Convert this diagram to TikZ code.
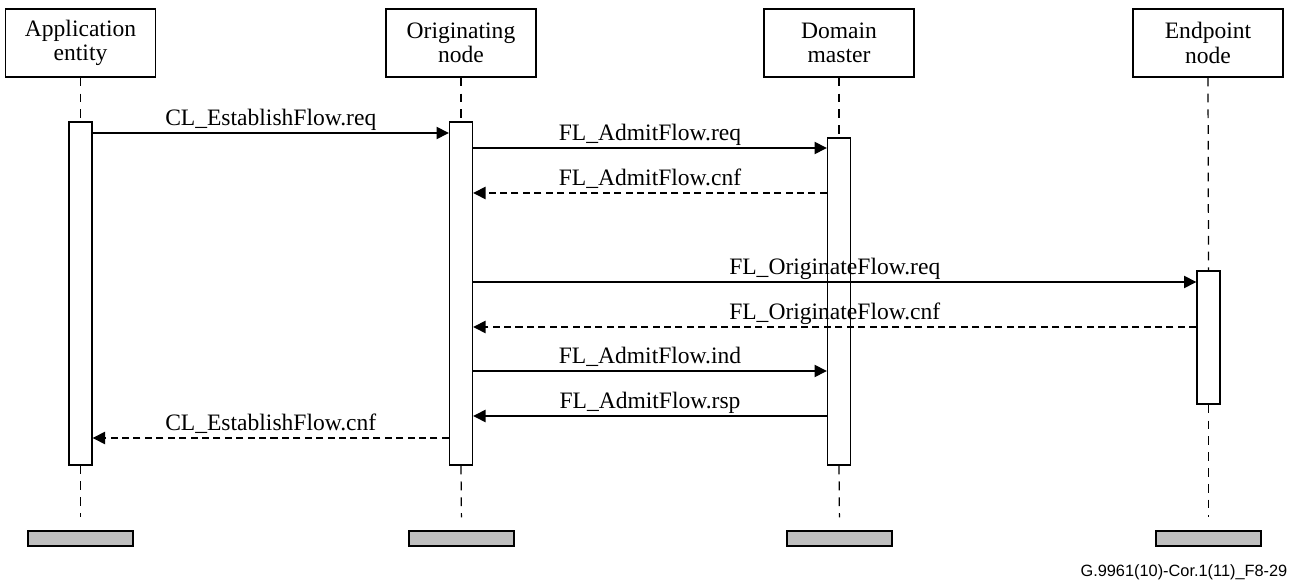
\documentclass[tikz,border=0pt]{standalone}
\usepackage{fontspec}
\setmainfont{Liberation Serif}
\newfontfamily\figidfont{Liberation Sans}
\usetikzlibrary{arrows.meta}

\begin{document}
\begin{tikzpicture}[x=0.02cm, y=-0.02cm, line width=0.8pt,
    font=\fontsize{13.4}{14}\selectfont,
    head/.style={draw, minimum width=3cm, minimum height=1.36cm, align=center, inner sep=1pt},
    act/.style={draw, fill=white, minimum width=0.46cm, inner sep=0pt},
    bar/.style={draw, fill=gray!50, minimum width=2.1cm, minimum height=0.3cm, inner sep=0pt},
    life/.style={dash pattern=on 5pt off 4pt, line width=0.7pt},
    req/.style={-{Triangle[length=7pt,width=7pt]}},
    cnf/.style={req, dash pattern=on 4pt off 2.5pt},
    msg/.style={midway, anchor=base, yshift=4pt, inner sep=0pt}]
    \useasboundingbox (0,0) rectangle (1301,580);

    % Entities
    \node[head] (app) at (80.5,43) {Application\\entity};
    \node[head] (orig) at (461,43) {Originating\\node};
    \node[head] (dom) at (839,43) {Domain\\master};
    \node[head] (endp) at (1208,43) {Endpoint\\node};

    % End bars
    \node[bar] (append) at (80.5,538.5) {};
    \node[bar] (origend) at (461.5,538.5) {};
    \node[bar] (domend) at (839.5,538.5) {};
    \node[bar] (endpend) at (1208.5,538.5) {};

    % Activations
    \node[act, minimum height=6.86cm] (appact) at (80.5,293.5) {};
    \node[act, minimum height=6.86cm] (origact) at (461,293.5) {};
    \node[act, minimum height=6.54cm] (domact) at (839,301.5) {};
    \node[act, minimum height=2.66cm] (endpact) at (1208.5,337.5) {};

    % Lifelines
    \draw[life] (app.south) -- (appact.north);
    \draw[life] (orig.south) -- (origact.north);
    \draw[life] (dom.south) -- (domact.north);
    \draw[life] (endp.south) -- (endpact.north);
    \draw[life, shorten >=0.26cm] (appact.south) -- (append.north);
    \draw[life, shorten >=0.26cm] (origact.south) -- (origend.north);
    \draw[life, shorten >=0.26cm] (domact.south) -- (domend.north);
    \draw[life, shorten >=0.26cm] (endpact.south) -- (endpend.north);

    % Messages
    \draw[req] (appact.east |- 0,133) -- (origact.west |- 0,133) node[msg] {CL\_EstablishFlow.req};
    \draw[req] (origact.east |- 0,148) -- (domact.west |- 0,148) node[msg] {FL\_AdmitFlow.req};
    \draw[cnf] (domact.west |- 0,193) -- (origact.east |- 0,193) node[msg] {FL\_AdmitFlow.cnf};
    \draw[req] (origact.east |- 0,282) -- (endpact.west |- 0,282) node[msg] {FL\_OriginateFlow.req};
    \draw[cnf] (endpact.west |- 0,327) -- (origact.east |- 0,327) node[msg] {FL\_OriginateFlow.cnf};
    \draw[req] (origact.east |- 0,371) -- (domact.west |- 0,371) node[msg] {FL\_AdmitFlow.ind};
    \draw[req] (domact.west |- 0,416) -- (origact.east |- 0,416) node[msg] {FL\_AdmitFlow.rsp};
    \draw[cnf] (origact.west |- 0,438) -- (appact.east |- 0,438) node[msg] {CL\_EstablishFlow.cnf};

    % Figure id
    \node[anchor=base east, inner sep=0pt, font=\figidfont\fontsize{9.3}{10}\selectfont] (figid) at (1288,576) {G.9961(10)-Cor.1(11)\_F8-29};
\end{tikzpicture}
\end{document}
